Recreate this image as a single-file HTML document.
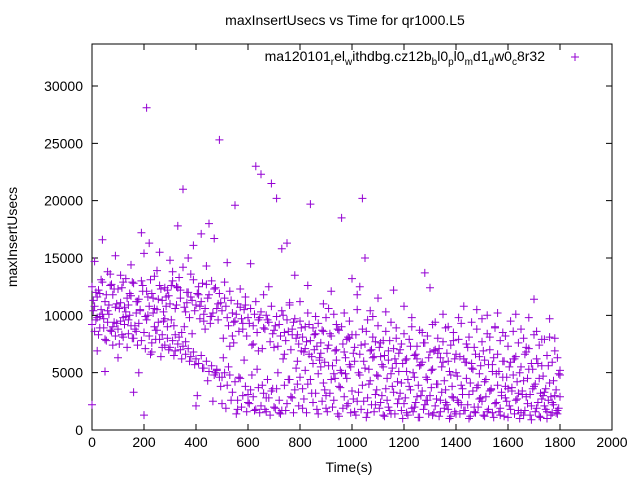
<!DOCTYPE html>
<html><head><meta charset="utf-8"><style>
html,body{margin:0;padding:0;background:#fff;}
svg{display:block;font-family:"Liberation Sans",sans-serif;}
</style></head><body>
<svg id="chart" width="640" height="480" viewBox="0 0 640 480" xmlns="http://www.w3.org/2000/svg">
<rect width="640" height="480" fill="#fff"/>
<text x="345" y="25" font-size="14" text-anchor="middle">maxInsertUsecs vs Time for qr1000.L5</text>
<text transform="translate(17,237) rotate(-90)" font-size="14" text-anchor="middle">maxInsertUsecs</text>
<text x="349" y="472" font-size="14" text-anchor="middle">Time(s)</text>
<g id="axes"></g>
<g id="points"></g>
<g>
<text x="545" y="61" font-size="14" text-anchor="end">ma120101<tspan font-size="10" dy="4">r</tspan><tspan dy="-4">el</tspan><tspan font-size="10" dy="4">w</tspan><tspan dy="-4">ithdbg.cz12b</tspan><tspan font-size="10" dy="4">b</tspan><tspan dy="-4">l0</tspan><tspan font-size="10" dy="4">p</tspan><tspan dy="-4">l0</tspan><tspan font-size="10" dy="4">m</tspan><tspan dy="-4">d1</tspan><tspan font-size="10" dy="4">d</tspan><tspan dy="-4">w0</tspan><tspan font-size="10" dy="4">c</tspan><tspan dy="-4">8r32</tspan></text>
<path d="M571,57h8M575,53v8" stroke="#9400d3" stroke-width="1"/>
</g>
</svg>
<script>
const xTicks=[0,200,400,600,800,1000,1200,1400,1600,1800,2000];
const yTicks=[0,5000,10000,15000,20000,25000,30000];
const seriesUpper=[12.5,10.8,11.6,9.9,12.9,11.2,10.4,13.6,11.8,10.7,
12.3,11.1,9.8,13.2,10.9,11.7,12.8,10.2,11.4,13.0,
15.4,12.1,10.8,11.9,13.4,10.5,12.6,11.3,9.7,12.2,
11.0,13.8,10.6,12.4,11.5,14.2,10.3,12.0,11.6,13.1,
10.9,12.5,11.2,10.1,12.7,11.8,9.9,12.3,10.6,11.9,
10.4,11.5,9.8,12.1,10.2,9.5,11.0,10.7,9.3,10.9,
9.8,10.6,9.1,11.2,9.6,10.3,8.9,10.0,9.4,10.8,
8.7,9.9,9.2,10.4,8.5,9.6,11.1,8.8,9.7,8.3,
9.5,8.1,9.0,10.2,7.8,8.9,8.4,9.3,7.6,8.6,
9.8,7.4,8.2,10.1,7.0,8.7,9.0,6.8,7.9,9.5,
8.3,7.2,10.5,6.6,8.8,7.5,9.6,6.9,8.1,7.7,
9.1,6.4,7.8,8.6,6.1,9.4,7.1,8.0,6.7,7.5,
8.4,6.2,7.9,9.0,6.5,7.3,8.7,5.9,7.6,8.2,
6.8,9.2,7.0,8.0,6.3,7.7,8.9,6.0,7.4,8.5,
6.6,7.9,9.3,6.2,7.5,8.1,5.8,7.2,8.8,6.4,
7.7,6.1,8.4,7.0,5.7,8.9,6.6,7.8,6.0,8.2,
7.3,5.9,8.6,6.4,7.6,5.5,8.0,6.8,7.1,5.8,
8.3,6.2,7.4,5.6,7.9,6.5,8.1,5.9,6.9,6.3,5.2];
const seriesLower=[9.2,8.6,9.8,8.9,10.1,7.9,9.4,8.7,9.0,8.2,
8.8,9.5,8.1,9.9,8.4,9.1,8.0,8.6,9.3,7.8,
8.5,9.6,8.2,7.6,9.0,8.7,7.9,8.3,7.4,8.0,
7.2,7.8,6.9,7.5,7.0,7.3,6.6,7.1,6.4,6.8,
6.2,5.8,6.5,5.4,6.0,5.1,5.6,4.8,5.3,4.6,
4.6,5.0,3.9,4.8,3.3,4.2,2.6,4.5,3.0,3.8,
2.4,3.5,2.9,1.8,3.7,2.1,3.2,1.6,2.8,3.4,
2.0,3.6,2.6,1.7,3.9,2.3,4.4,2.8,3.5,4.0,
4.6,3.6,5.2,4.0,4.4,5.8,3.2,4.9,5.5,4.1,
3.0,5.6,4.4,2.6,6.1,3.8,5.0,2.9,4.5,5.7,
3.4,6.0,2.5,4.8,3.9,5.4,2.8,4.3,6.3,3.1,
4.7,2.4,5.5,3.6,2.0,4.9,3.3,5.8,2.7,4.1,
2.3,5.1,3.8,1.9,4.6,2.9,5.6,3.4,2.2,4.4,
3.0,5.3,2.1,4.0,2.6,5.9,3.5,1.8,4.8,2.8,
5.0,2.4,3.9,1.7,4.5,3.1,5.4,2.0,3.7,4.9,
2.5,4.2,1.6,3.4,5.1,2.3,3.9,1.9,4.6,2.8,
3.6,1.8,4.8,2.6,3.2,1.5,4.3,2.9,5.3,2.1,
3.8,1.9,4.5,2.7,3.3,1.6,4.1,2.4,3.0,1.7,2.9];
const seriesScatter=[2.2,14.7,6.9,11.9,16.6,5.1,13.8,12.6,7.4,15.2,
6.3,13.5,12.9,10.3,9.6,14.4,3.3,11.2,5.0,17.2,
1.3,28.1,16.3,6.8,10.6,13.9,15.5,7.2,12.4,9.0,
14.8,13.0,8.3,17.8,12.2,21.0,7.7,15.0,13.6,16.1,
2.1,11.8,17.1,9.5,14.3,18.0,13.0,16.7,5.2,25.3,
2.3,12.9,14.6,7.3,8.2,19.6,1.8,12.3,8.8,11.6,
3.1,14.5,7.5,23.0,6.9,22.3,11.8,2.8,12.5,21.5,
7.2,20.2,1.5,15.8,6.6,16.3,10.9,8.3,13.5,6.0,
11.2,1.9,7.1,12.6,19.7,2.4,9.9,1.4,6.7,11.0,
1.9,10.6,12.1,4.9,9.2,1.2,18.5,10.2,2.1,8.0,
13.2,1.6,11.8,12.5,20.2,15.0,1.5,10.4,9.9,2.2,
11.5,7.6,1.3,10.3,6.9,1.4,12.2,8.9,5.1,1.7,
10.8,1.5,7.9,9.8,2.0,6.2,1.1,8.5,13.7,2.6,
12.4,1.3,9.4,6.7,1.6,10.1,2.4,9.0,1.2,7.8,
1.4,9.8,2.2,10.8,5.9,1.0,9.4,1.6,10.5,2.7,
9.7,1.2,10.0,8.1,1.5,9.0,10.2,1.3,8.5,3.8,
1.1,9.5,6.2,10.1,1.7,8.8,1.3,7.2,9.8,0.9,
11.4,8.6,1.2,7.9,2.1,1.0,9.7,1.5,8.0,1.4,4.8];
const seriesMidOffset=[11.3,9.6,12.2,10.5,8.9,11.8,10.1,12.7,9.4,11.0,
10.6,12.4,9.2,11.5,10.0,12.9,8.8,11.2,10.4,12.1,
9.9,11.6,13.1,10.2,8.7,11.4,12.3,9.5,10.8,11.7,
12.6,9.1,10.9,13.3,8.5,10.7,12.0,9.8,11.3,10.4,
11.9,9.7,12.8,10.6,11.5,9.3,10.2,12.4,9.6,11.1,
8.0,10.8,9.1,11.3,7.6,10.1,8.6,9.7,10.5,8.2,
9.3,7.4,10.1,8.5,9.8,7.1,8.8,9.6,7.7,8.4,
9.1,7.3,8.2,10.0,7.8,8.6,7.0,9.4,8.0,7.5,
8.9,6.8,7.7,9.2,6.4,8.3,7.3,6.1,8.7,5.9,
7.1,8.4,5.6,6.9,8.8,5.2,7.5,6.3,8.1,5.5,
6.7,8.3,5.0,7.4,6.0,8.6,5.3,7.0,6.4,4.8,
7.2,5.7,6.5,4.5,7.8,5.4,6.2,4.2,7.0,5.8,
6.1,4.4,7.3,5.0,6.6,3.9,5.7,7.6,4.6,6.3,
5.2,6.9,4.0,7.1,5.5,4.3,6.7,5.1,3.8,6.2,
4.7,6.4,3.6,5.9,7.2,4.1,5.3,6.6,3.9,5.6,
6.9,4.4,5.7,3.5,6.3,4.9,5.1,3.3,6.0,4.6,
5.5,3.7,6.2,4.2,5.0,3.4,6.6,4.5,3.1,5.3,
4.0,5.8,3.2,4.7,3.6,5.6,2.9,4.3,3.5,4.9];
const seriesLowOffset=[10.4,12.0,8.3,13.1,9.7,7.8,10.9,8.6,12.3,9.3,
7.5,8.3,10.7,7.2,11.9,8.0,9.1,7.4,10.5,12.6,
7.1,10.0,6.6,11.5,7.9,9.4,6.4,10.3,11.6,7.0,
9.6,6.5,12.5,8.1,6.2,9.0,11.1,6.0,8.4,5.7,
3.0,10.8,5.4,8.8,4.3,9.9,2.5,5.0,11.0,3.8,
6.3,1.9,5.5,2.6,9.4,1.4,4.6,2.0,6.1,1.6,
2.3,4.8,1.7,5.3,1.5,3.9,1.8,4.4,1.3,3.6,
1.9,5.0,1.4,6.2,1.7,4.4,2.9,1.5,5.4,2.1,
6.9,2.7,1.5,6.6,3.2,7.0,1.8,6.3,2.5,3.5,
1.6,3.2,2.0,4.5,1.4,3.7,1.9,4.9,2.3,1.5,
2.7,1.3,3.3,1.8,2.5,1.1,4.0,2.2,1.6,3.5,
1.9,3.0,1.2,2.6,1.7,3.8,1.4,2.3,3.2,1.0,
2.8,1.3,3.5,1.6,2.4,1.1,3.0,1.8,2.6,1.4,
3.7,1.5,2.7,1.2,3.3,1.9,2.2,1.0,2.9,1.6,
2.6,1.4,3.1,1.7,2.2,1.2,3.4,1.5,2.0,2.8,
1.3,2.9,1.8,3.6,1.1,2.4,1.6,3.0,1.2,2.5,
2.1,3.4,1.4,2.7,1.0,3.1,1.7,2.3,1.3,3.6,
1.6,2.4,1.1,3.0,1.8,2.6,1.3,2.2,1.5,1.9];
const timeStep=10;
const offsetStart=5;

const L=92,R=612,T=44,B=430;
function sx(t){return L+(t/2000)*(R-L);}
function sy(v){return B-(v/30000)*344;}
const NS="http://www.w3.org/2000/svg";
const axes=document.getElementById('axes');
function mk(tag,attrs,parent){const e=document.createElementNS(NS,tag);for(const k in attrs)e.setAttribute(k,attrs[k]);parent.appendChild(e);return e;}

const frame=mk('rect',{x:L,y:T,width:R-L,height:B-T,fill:'none',stroke:'#000','stroke-width':1},axes);


xTicks.forEach(t=>{
  const x=sx(t);
  const tk=mk('path',{d:`M${x},${B}v-6M${x},${T}v6`,stroke:'#000','stroke-width':1},axes);
  
  
  const lb=mk('text',{x:x,y:B+17,'font-size':14,'text-anchor':'middle'},axes);
  lb.textContent=t;
  
  
});
yTicks.forEach(v=>{
  const y=sy(v);
  const tk=mk('path',{d:`M${L},${y}h6M${R},${y}h-6`,stroke:'#000','stroke-width':1},axes);
  
  
  const lb=mk('text',{x:L-9,y:y+5,'font-size':14,'text-anchor':'end'},axes);
  lb.textContent=v;
  
  
});

const pts=document.getElementById('points');
let d='';
function addSeries(arr,start){
  arr.forEach((v,i)=>{
    const x=sx(start+i*timeStep), y=sy(v*1000);
    d+=`M${(x-4).toFixed(1)},${y.toFixed(1)}h8M${x.toFixed(1)},${(y-4).toFixed(1)}v8`;
  });
}
addSeries(seriesUpper,0);
addSeries(seriesLower,0);
addSeries(seriesScatter,0);
addSeries(seriesMidOffset,offsetStart);
addSeries(seriesLowOffset,offsetStart);
const p=mk('path',{d:d,stroke:'#9400d3','stroke-width':1,fill:'none'},pts);


</script>
</body></html>
